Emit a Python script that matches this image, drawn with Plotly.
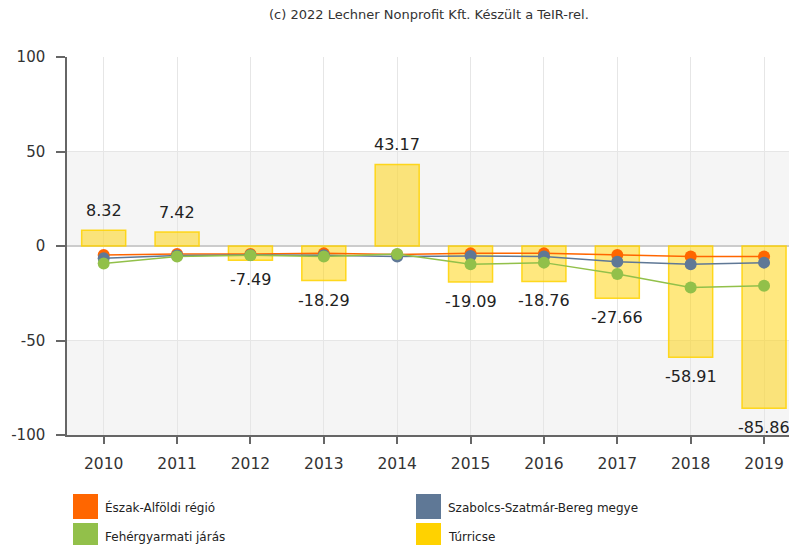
import plotly.graph_objects as go

years = ["2010", "2011", "2012", "2013", "2014", "2015", "2016", "2017", "2018", "2019"]
turricse = [8.32, 7.42, -7.49, -18.29, 43.17, -19.09, -18.76, -27.66, -58.91, -85.86]
eszak_alfoldi = [-4.8, -4.2, -4.2, -3.9, -4.5, -3.9, -3.9, -4.8, -5.6, -5.6]
szabolcs = [-6.5, -5.0, -4.8, -4.9, -5.6, -5.3, -5.6, -8.3, -9.7, -8.8]
fehergyarmati = [-9.2, -5.6, -4.9, -5.6, -4.2, -9.7, -8.8, -14.8, -21.9, -21.0]

names = ["Észak-Alföldi régió", "Szabolcs-Szatmár-Bereg megye", "Fehérgyarmati járás", "Túrricse"]
colors = ["#ff6600", "#5f7896", "#92c04a", "#ffd200"]
yticks = [-100, -50, 0, 50, 100]
yticktext = ["-100", "-50", "0", "50", "100"]

W, H = 789, 545
ML, MR, MT, MB = 67, 0, 57, 110
PW, PH = W - ML - MR, H - MT - MB
FONT = "Verdana, DejaVu Sans, sans-serif"


def px2x(px):
    return (px - ML) / PW


def py2y(py):
    return (H - MB - py) / PH


fig = go.Figure()

fig.add_trace(go.Bar(
    x=years, y=turricse, name=names[3], width=0.6,
    marker=dict(color="rgba(255,210,0,0.5)", line=dict(color="rgba(255,210,0,0.85)", width=1.5)),
    showlegend=False, hoverinfo="x+y",
))

for name, vals, col in [(names[0], eszak_alfoldi, colors[0]),
                        (names[1], szabolcs, colors[1]),
                        (names[2], fehergyarmati, colors[2])]:
    fig.add_trace(go.Scatter(
        x=years, y=vals, name=name, mode="lines+markers",
        line=dict(color=col, width=1.5),
        marker=dict(color=col, size=12),
        showlegend=False,
    ))

annotations = []
for i, v in enumerate(turricse):
    annotations.append(dict(
        x=i, y=v, xref="x", yref="y", text=f"{v:.2f}", showarrow=False,
        yanchor="bottom" if v >= 0 else "top", yshift=8 if v >= 0 else -8,
        font=dict(family=FONT, size=16, color="#222222"),
    ))

annotations.append(dict(
    x=px2x(429), y=py2y(15), xref="paper", yref="paper",
    text="(c) 2022 Lechner Nonprofit Kft. Készült a TeIR-rel.", showarrow=False,
    font=dict(family=FONT, size=13, color="#333333"), xanchor="center", yanchor="middle",
))

shapes = []
for y0, y1 in [(0, 50), (-100, -50)]:
    shapes.append(dict(type="rect", xref="paper", yref="y", x0=0, x1=1, y0=y0, y1=y1,
                       fillcolor="#f5f5f5", line=dict(width=0), layer="below"))

legend_pos = [(73, 494, names[0], colors[0]), (416, 494, names[1], colors[1]),
              (73, 523, names[2], colors[2]), (416, 523, names[3], colors[3])]
for sx, sy, nm, col in legend_pos:
    shapes.append(dict(type="rect", xref="paper", yref="paper",
                       x0=px2x(sx), x1=px2x(sx + 25), y0=py2y(sy), y1=py2y(sy + 25),
                       fillcolor=col, line=dict(width=0)))
    annotations.append(dict(x=px2x(sx + 30), y=py2y(sy + 14), xref="paper", yref="paper",
                            text=nm, showarrow=False, xanchor="left", yanchor="middle",
                            font=dict(family=FONT, size=12, color="#222222")))

fig.update_layout(
    width=W, height=H,
    margin=dict(l=ML, r=MR, t=MT, b=MB, pad=0),
    plot_bgcolor="white", paper_bgcolor="white",
    font=dict(family=FONT, size=15, color="#333333"),
    barmode="overlay",
    showlegend=False,
    annotations=annotations,
    shapes=shapes,
    xaxis=dict(
        type="category", range=[-0.5, 9.34],
        showgrid=True, gridcolor="#e6e6e6", gridwidth=1,
        showline=True, linecolor="#666666", linewidth=1.5,
        ticks="outside", ticklen=7, tickcolor="#666666", tickwidth=1.5,
        tickfont=dict(family=FONT, size=15.5, color="#333333"),
        ticklabelstandoff=7,
        fixedrange=True,
    ),
    yaxis=dict(
        range=[-100, 100], tickvals=yticks, ticktext=yticktext,
        showgrid=True, gridcolor="#e6e6e6", gridwidth=1,
        zeroline=True, zerolinecolor="#cccccc", zerolinewidth=1.5,
        showline=True, linecolor="#666666", linewidth=1.5,
        ticks="outside", ticklen=9, tickcolor="#666666", tickwidth=1.5,
        tickfont=dict(family=FONT, size=15, color="#333333"),
        ticklabelstandoff=8,
        fixedrange=True,
    ),
)

fig.write_html(
    "out.html",
    config={"displayModeBar": False},
    post_script="document.body.style.margin='0';document.body.style.overflow='hidden';",
)
